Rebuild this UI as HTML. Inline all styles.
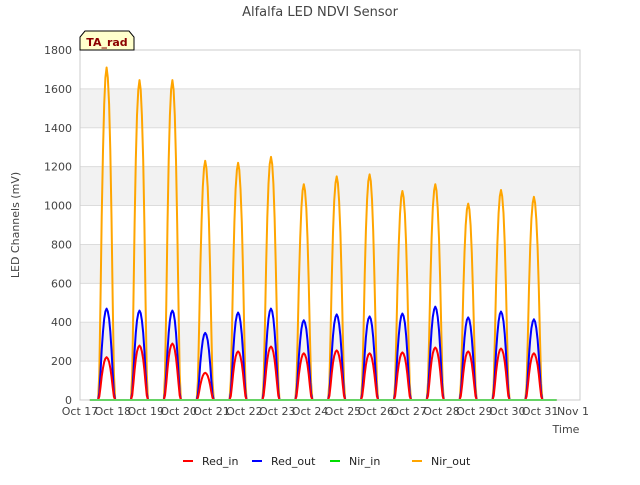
<!DOCTYPE html>
<html><head><meta charset="utf-8"><style>
body{margin:0;background:#fff;font-family:"Liberation Sans","DejaVu Sans",sans-serif}
svg text{font-family:"DejaVu Sans","Liberation Sans",sans-serif}
</style></head><body>
<svg id="chart" width="640" height="480" xmlns="http://www.w3.org/2000/svg">
<rect width="640" height="480" fill="#fff"/>
<text x="320" y="16" text-anchor="middle" font-size="13" fill="#444">Alfalfa LED NDVI Sensor</text>
<g id="grid"></g>
<g id="series"></g>
<g id="axes"></g>
<text x="566" y="433" text-anchor="middle" font-size="11" fill="#444">Time</text>
<text transform="translate(19,225) rotate(-90)" text-anchor="middle" font-size="11" fill="#444">LED Channels (mV)</text>
<g>
<path d="M80,50 L80,37 L85,31 L129,31 L134,37 L134,50 Z" fill="#ffffcc" stroke="#000" stroke-width="1"/>
<text x="107" y="46" text-anchor="middle" font-size="11" font-weight="bold" fill="#8b0000">TA_rad</text>
</g>
<g id="legend"></g>
</svg>
<script>
const days=["Oct 17","Oct 18","Oct 19","Oct 20","Oct 21","Oct 22","Oct 23","Oct 24","Oct 25","Oct 26","Oct 27","Oct 28","Oct 29","Oct 30","Oct 31","Nov 1"];
const yTicks=[0,200,400,600,800,1000,1200,1400,1600,1800];
const redIn=[220,280,290,140,250,275,240,255,240,245,270,250,265,240];
const redOut=[470,460,460,345,450,470,410,440,430,445,480,425,455,415];
const nirIn=[0,0,0,0,0,0,0,0,0,0,0,0,0,0];
const nirOut=[1710,1645,1645,1230,1220,1250,1110,1150,1160,1075,1110,1010,1080,1045];
const NS="http://www.w3.org/2000/svg";
const X0=80,X1=580,Y0=400,Y1=50;
const xs=d=>X0+d*(493/15);
const ys=v=>Y0-v*(Y0-Y1)/1800;
function mk(t,a,p){const e=document.createElementNS(NS,t);for(const k in a)e.setAttribute(k,a[k]);p.appendChild(e);return e;}
const grid=document.getElementById('grid'),axes=document.getElementById('axes'),ser=document.getElementById('series'),leg=document.getElementById('legend');
for(let i=0;i<yTicks.length-1;i++){if(i%2==1){const r=mk('rect',{x:X0,y:ys(yTicks[i+1]),width:X1-X0,height:ys(yTicks[i])-ys(yTicks[i+1]),fill:'#f2f2f2'},grid);

}}
yTicks.forEach(v=>{const l=mk('line',{x1:X0,x2:X1,y1:ys(v),y2:ys(v),stroke:'#dcdcdc'},grid);


const t=mk('text',{x:X0-8,y:ys(v)+4,'text-anchor':'end','font-size':11,fill:'#444'},axes);t.textContent=v;

});
mk('rect',{x:X0,y:Y1,width:X1-X0,height:Y0-Y1,fill:'none',stroke:'#ccc'},axes);
days.forEach((d,i)=>{const t=mk('text',{x:xs(i),y:415,'text-anchor':'middle','font-size':11,fill:'#444'},axes);t.textContent=d;

});
const shape=[0,0.08,0.3,0.55,0.75,0.89,0.97,1,0.97,0.89,0.75,0.55,0.3,0.08,0];
function draw(vals,color,name,w){let pts=[[xs(0.3),ys(0)]];
vals.forEach((v,i)=>{shape.forEach((s,j)=>{const t=i+0.55+j*0.52/(shape.length-1);pts.push([xs(t),ys(v*s)]);});});
pts.push([xs(14.5),ys(0)]);
const p=mk('polyline',{points:pts.map(p=>p[0].toFixed(1)+','+p[1].toFixed(1)).join(' '),fill:'none',stroke:color,'stroke-width':w,'stroke-linejoin':'round'},ser);

}
draw(nirOut,'#ffa500','series-nir-out',2);
draw(redOut,'#0000ff','series-red-out',2);
draw(redIn,'#ff0000','series-red-in',2);
draw(nirIn,'#00dd00','series-nir-in',2);
[["Red_in","#ff0000",183],["Red_out","#0000ff",252],["Nir_in","#00dd00",330],["Nir_out","#ffa500",412]].forEach(l=>{
const g=mk('g',{},leg);


mk('line',{x1:l[2],x2:l[2]+10,y1:461,y2:461,stroke:l[1],'stroke-width':2},g);
const t=mk('text',{x:l[2]+19,y:465,'font-size':11,fill:'#222'},g);t.textContent=l[0];});
</script>
</body></html>
